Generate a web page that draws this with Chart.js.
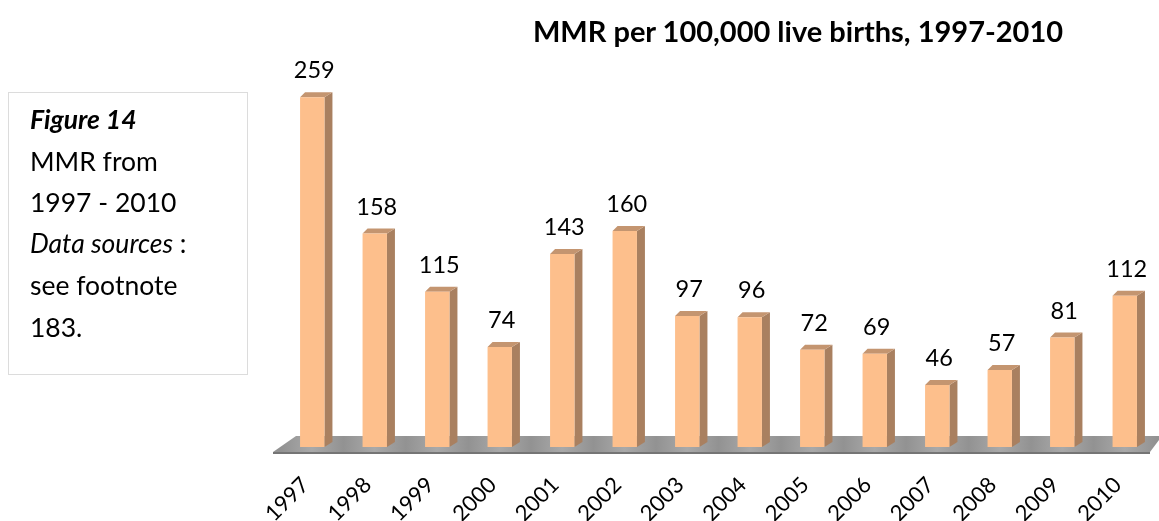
<!DOCTYPE html>
<html>
<head>
<meta charset="utf-8">
<script src="https://cdn.jsdelivr.net/npm/chart.js@4"></script>
<style>
  html, body { margin: 0; padding: 0; background: #fff; }
  body { width: 1159px; height: 521px; position: relative; overflow: hidden; font-family: Lato, sans-serif; color: #000; }
  #chart { position: absolute; left: 0; top: 0; }
  #title { position: absolute; left: 498px; width: 600px; top: 16px; text-align: center; font-size: 29px; font-weight: bold; line-height: 30px; white-space: nowrap; }
  #note { position: absolute; left: 8px; top: 92px; width: 238px; height: 281px; border: 1px solid #dcdcdc; box-sizing: content-box; }
  #note div { position: absolute; left: 21px; font-size: 26.5px; line-height: 30px; white-space: nowrap; }
</style>
</head>
<body>
<canvas id="chart" width="1159" height="521"></canvas>
<div id="title">MMR per 100,000 live births, 1997-2010</div>
<div id="note">
  <div style="top:11px"><b><i>Figure 14</i></b></div>
  <div style="top:53px">MMR from</div>
  <div style="top:94px">1997 - 2010</div>
  <div style="top:135px"><i>Data sources</i> :</div>
  <div style="top:177px">see footnote</div>
  <div style="top:219px">183.</div>
</div>
<script>
// Data
const years = ['1997', '1998', '1999', '2000', '2001', '2002', '2003', '2004', '2005', '2006', '2007', '2008', '2009', '2010'];
const mmr = [259, 158, 115, 74, 143, 160, 97, 96, 72, 69, 46, 57, 81, 112];

const sideW = 8;
const topH = 5;

// Grey floor under the bars, then the side and top faces of each bar
const faces = {
  id: 'faces',
  beforeDatasetsDraw(chart) {
    const ctx = chart.ctx;
    const a = chart.chartArea;
    const y0 = a.bottom;
    const grad = ctx.createLinearGradient(a.left, y0 - 11, a.right, y0 + 5);
    for (let i = 0; i <= 28; i++) {
      grad.addColorStop(i / 28, i % 2 ? '#a9a9a9' : '#929292');
    }
    ctx.save();
    ctx.fillStyle = grad;
    ctx.beginPath();
    ctx.moveTo(a.left - 8, y0 + 5);
    ctx.lineTo(a.left + 15, y0 - 11);
    ctx.lineTo(a.right + 6, y0 - 11);
    ctx.lineTo(a.right - 6, y0 + 5);
    ctx.closePath();
    ctx.fill();
    ctx.fillStyle = '#757575';
    ctx.fillRect(a.left - 8, y0 + 5, a.right - a.left + 2, 2);

    chart.getDatasetMeta(0).data.forEach(bar => {
      const l = bar.x - bar.width / 2;
      const r = bar.x + bar.width / 2;
      ctx.fillStyle = '#a98060';
      ctx.beginPath();
      ctx.moveTo(r, bar.y);
      ctx.lineTo(r + sideW, bar.y - topH);
      ctx.lineTo(r + sideW, y0 - topH);
      ctx.lineTo(r, y0);
      ctx.closePath();
      ctx.fill();
      ctx.fillStyle = '#c49570';
      ctx.beginPath();
      ctx.moveTo(l, bar.y);
      ctx.lineTo(l + 5, bar.y - topH);
      ctx.lineTo(r + sideW, bar.y - topH);
      ctx.lineTo(r, bar.y);
      ctx.closePath();
      ctx.fill();
    });
    ctx.restore();
  },
  afterDatasetsDraw(chart) {
    const ctx = chart.ctx;
    ctx.save();
    ctx.fillStyle = '#000';
    ctx.font = '23.5px Lato';
    ctx.textAlign = 'center';
    ctx.textBaseline = 'alphabetic';
    chart.getDatasetMeta(0).data.forEach((bar, i) => {
      ctx.fillText(mmr[i], bar.x + 2, bar.y - 19);
    });
    ctx.restore();
  }
};

new Chart(document.getElementById('chart'), {
  type: 'bar',
  data: {
    labels: years,
    datasets: [{
      data: mmr,
      backgroundColor: '#fdbf8c',
      borderWidth: 0,
      barPercentage: 0.39,
      categoryPercentage: 1
    }]
  },
  options: {
    responsive: false,
    animation: false,
    layout: { padding: { left: 281, right: 3, top: 27, bottom: 0 } },
    plugins: { legend: { display: false }, tooltip: { enabled: false }, title: { display: false } },
    scales: {
      y: { display: false, min: 0, max: 311 },
      x: {
        afterFit(scale) {
          scale.height = 74;
          scale.paddingLeft = 0;
          scale.paddingRight = 0;
        },
        border: { display: false },
        grid: { display: false, drawTicks: false },
        ticks: { color: '#000', font: { family: 'Lato', size: 22 }, minRotation: 45, maxRotation: 45, padding: 25, labelOffset: -7 }
      }
    }
  },
  plugins: [faces]
});
</script>
</body>
</html>
